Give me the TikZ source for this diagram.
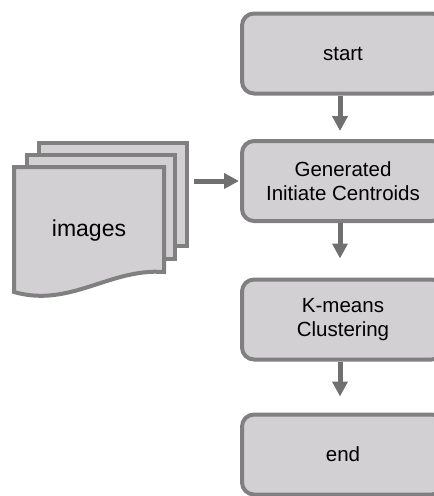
\documentclass[tikz,border=0pt]{standalone}
\usepackage{fontspec}
\setmainfont{Liberation Sans}
\usetikzlibrary{arrows.meta}
\definecolor{boxfill}{RGB}{210,208,210}
\definecolor{boxline}{RGB}{128,128,128}
\definecolor{arrowcol}{RGB}{112,112,112}
\tikzset{
  flowbox/.style={draw=boxline, fill=boxfill, line width=4pt, rounded corners=12pt,
    minimum width=202pt, minimum height=80pt, inner sep=0pt, align=center,
    font=\fontsize{20.5pt}{24pt}\selectfont},
  page/.style={draw=boxline, fill=boxfill, line width=4pt},
  flowarrow/.style={draw=arrowcol, line width=5pt, -{Triangle[length=15pt,width=15pt]}}
}
\begin{document}
\begin{tikzpicture}[x=1pt,y=-1pt]
\useasboundingbox (0,0) rectangle (434,496);
% document stack
\draw[page] (39,143) rectangle (187,246);
\draw[page] (27,155) rectangle (175,259);
\draw[page] (14,167) -- (164,167) -- (164,272)
  .. controls (110,268) and (70,308) .. (14,292) -- cycle;
\node[font=\fontsize{23pt}{26pt}\selectfont, inner sep=0pt] (img) at (89,231) {images};
% flow boxes
\node[flowbox] (start) at (343,53.5) {start};
\node[flowbox] (gen) at (343,181) {Generated\\Initiate Centroids};
\node[flowbox] (km) at (343,319.5) {K-means\\Clustering};
\node[flowbox] (end) at (343,454.5) {end};
\coordinate (docR) at (194,181);
% arrows
\draw[flowarrow, shorten >=8pt] ([xshift=-3pt]start.south) -- ([xshift=-3pt]gen.north);
\draw[flowarrow, shorten >=19pt] ([xshift=-3pt]gen.south) -- ([xshift=-3pt]km.north);
\draw[flowarrow, shorten >=16pt] ([xshift=-3pt]km.south) -- ([xshift=-3pt]end.north);
\draw[flowarrow] (docR) -- ([xshift=-1pt]gen.west);
\end{tikzpicture}
\end{document}
